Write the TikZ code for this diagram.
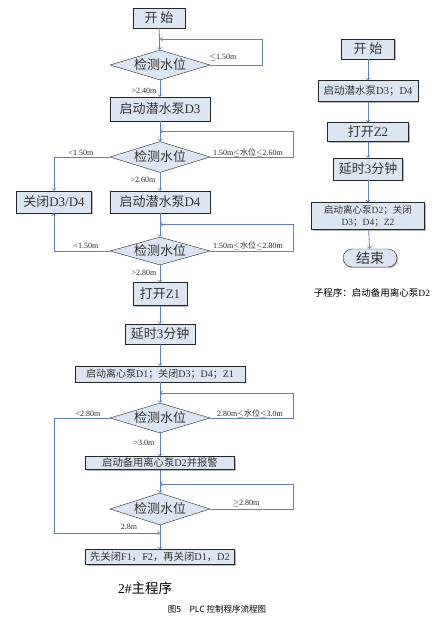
\documentclass[tikz,border=0pt]{standalone}
\usepackage{fontspec}
\setmainfont{Liberation Serif}
\newfontfamily\cjk{Noto Sans CJK SC}
\newcommand{\zh}[1]{{\cjk #1}}
\newcommand{\fs}[1]{\fontsize{#1}{#1}\selectfont}
\usetikzlibrary{shapes.geometric,shadows}
\definecolor{boxfill}{RGB}{220,230,242}
\definecolor{flowline}{RGB}{95,130,190}
\tikzset{
  box/.style={draw=black!85, fill=boxfill, inner sep=0pt, text=black!80,
    drop shadow={shadow xshift=1.2pt, shadow yshift=-1.2pt, fill=black!55}},
  cond/.style={diamond, aspect=3.3, draw=black!85, fill=boxfill, inner sep=0pt,
    text=black!80, minimum width=100pt, minimum height=30pt, font=\fs{13}},
  lbl/.style={font=\fs{8}, inner sep=0pt, text=black!85},
  flow/.style={draw=flowline, line width=0.8pt}
}

\begin{document}
\begin{tikzpicture}[x=1pt, y=-1pt]
\useasboundingbox (0,0) rectangle (445,619);

% 主程序(左側)
\node[box, minimum width=52pt, minimum height=20pt, font=\fs{13}] (start) at (159,18) {\zh{开 始}};
\node[cond] (chk1) at (160,65) {\zh{检测水位}};
\node[box, minimum width=100pt, minimum height=24pt, font=\fs{13}] (pumpa) at (160,109) {\zh{启动潜水泵}D3};
\node[cond, minimum height=31pt] (chk2) at (160,157) {\zh{检测水位}};
\node[box, minimum width=100pt, minimum height=22pt, font=\fs{13}] (pumpb) at (160,202) {\zh{启动潜水泵}D4};
\node[box, minimum width=75pt, minimum height=22pt, font=\fs{13}] (off) at (54,202) {\zh{关闭}D3/D4};
\node[cond, minimum height=28pt] (chk3) at (160,251) {\zh{检测水位}};
\node[box, minimum width=54pt, minimum height=23pt, font=\fs{13}] (zone) at (160,294) {\zh{打开}Z1};
\node[box, minimum width=70pt, minimum height=20pt, font=\fs{13}] (wait) at (160,334) {\zh{延时}3\zh{分钟}};
\node[box, minimum width=170pt, minimum height=16pt, font=\fs{10}] (cent) at (160,374) {\zh{启动离心泵}D1\zh{；关闭}D3\zh{；}D4\zh{；}Z1};
\node[cond] (chk4) at (160,418) {\zh{检测水位}};
\node[box, minimum width=149pt, minimum height=13pt, font=\fs{10.3}] (spare) at (160,463) {\zh{启动备用离心泵}D2\zh{并报警}};
\node[cond, minimum height=32pt] (chk5) at (160,509) {\zh{检测水位}};
\node[box, minimum width=149pt, minimum height=15pt, font=\fs{10.3}] (stop) at (160,557) {\zh{先关闭}F1\zh{，}F2\zh{，再关闭}D1\zh{，}D2};

% 交点
\coordinate (in1) at (160,39);
\coordinate (in2) at (160,131);
\coordinate (in3) at (160,224);
\coordinate (in4) at (160,393);
\coordinate (in5) at (160,484);
\coordinate (in6) at (160,533);

% 矢印
\draw[flow,->] (start) -- (chk1);
\draw[flow,->] (chk1) -- (pumpa);
\draw[flow,->] (pumpa) -- (chk2);
\draw[flow,->] (chk2) -- (pumpb);
\draw[flow,->] (pumpb) -- (chk3);
\draw[flow,->] (chk3) -- (zone);
\draw[flow,->] (zone) -- (wait);
\draw[flow,->] (wait) -- (cent);
\draw[flow,->] (cent) -- (chk4);
\draw[flow,->] (chk4) -- (spare);
\draw[flow,->] (spare) -- (chk5);
\draw[flow,->] (chk5) -- (stop);

\draw[flow,->] (chk1.east) -| (262,39) -- (in1);
\draw[flow,->] (chk2.east) -| (293,131) -- (in2);
\draw[flow,->] (chk3.east) -| (293,224) -- (in3);
\draw[flow,->] (chk4.east) -| (293,393) -- (in4);
\draw[flow,->] (chk5.east) -| (293,484) -- (in5);
\draw[flow,->] (chk2.west) -| (off.north);
\draw[flow,->] (chk3.west) -| (off.south);
\draw[flow,->] (chk4.west) -| (54,533) -- (in6);

% 条件
\node[lbl] (c1a) at (223,57) {$\leq$1.50m};
\node[lbl] (c1b) at (144,91) {>2.40m};
\node[lbl] (c2a) at (81,153) {<1.50m};
\node[lbl] (c2b) at (248,153) {1.50m$\leq$\zh{水位}$\leq$2.60m};
\node[lbl] (c2c) at (143,180) {>2.60m};
\node[lbl] (c3a) at (86,246) {<1.50m};
\node[lbl] (c3b) at (248,246) {1.50m$\leq$\zh{水位}$\leq$2.80m};
\node[lbl] (c3c) at (144,273) {>2.80m};
\node[lbl] (c4a) at (88,414) {<2.80m};
\node[lbl] (c4b) at (250,414) {2.80m$\leq$\zh{水位}$\leq$3.0m};
\node[lbl] (c4c) at (144,443) {>3.0m};
\node[lbl] (c5a) at (246,503) {$\geq$2.80m};
\node[lbl] (c5b) at (129,527) {2.8m};

\node[font=\fs{13.5}] (mtitle) at (145,588) {2\#\zh{主程序}};
\node[font=\fs{8.5}] (fig) at (217,609) {\cjk 图5\quad PLC 控制程序流程图};

% 子程序(右側)
\node[box, minimum width=53pt, minimum height=20pt, font=\fs{13}] (rstart) at (368,49) {\zh{开 始}};
\node[box, minimum width=100pt, minimum height=21pt, font=\fs{10.5}] (rpump) at (368,91) {\zh{启动潜水泵}D3\zh{；}D4};
\node[box, minimum width=81pt, minimum height=19pt, font=\fs{13}] (rzone) at (368,132) {\zh{打开}Z2};
\node[box, minimum width=69pt, minimum height=22pt, font=\fs{13}] (rwait) at (368,169) {\zh{延时}3\zh{分钟}};
\node[box, minimum width=113pt, minimum height=27pt, font=\fs{9.5}, align=center] (rcent) at (368,216) {\zh{启动离心泵}D2\zh{；关闭}\\[2pt]D3\zh{；}D4\zh{；}Z2};
\node[box, rounded corners=9pt, minimum width=54pt, minimum height=18pt, font=\fs{14}] (rend) at (370,258) {\zh{结束}};
\node[font=\fs{9.5}] (sub) at (372,293) {\zh{子程序：启动备用离心泵}D2};

\draw[flow,->] (rstart) -- (rpump);
\draw[flow,->] (rpump) -- (rzone);
\draw[flow,->] (rzone) -- (rwait);
\draw[flow,->] (rwait) -- (rcent);
\draw[flow,->] (rcent) -- (rend);
\end{tikzpicture}
\end{document}
